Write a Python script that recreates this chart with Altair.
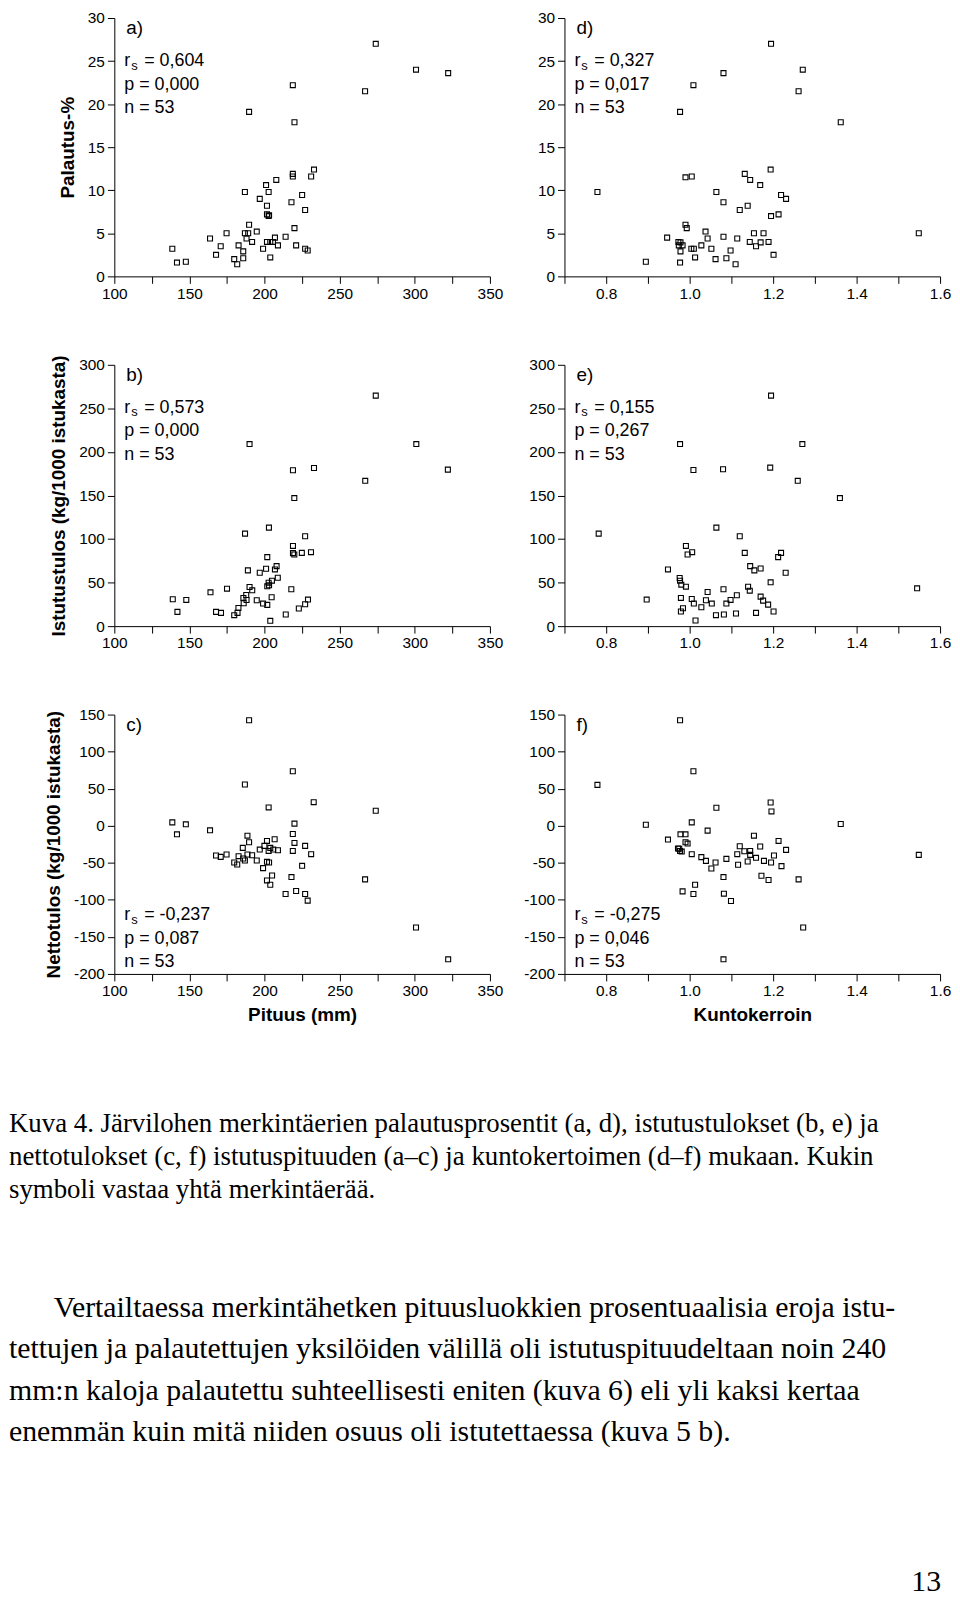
import altair as alt
import pandas as pd

SANS = "Liberation Sans"
SERIF = "Liberation Serif"

# ---------------- data ----------------
len_a = [274.0, 300.8, 322.2, 266.9, 218.8, 189.7, 219.9, 232.9, 218.8, 218.8, 231.0, 207.8, 201.0,
         186.9, 202.7, 196.8, 225.0, 217.9, 201.6, 227.0, 201.6, 202.7, 189.7, 219.9, 174.7, 186.9,
         189.1, 194.8, 163.7, 188.0, 206.9, 214.0, 191.7, 201.6, 203.8, 205.6, 170.8, 182.7, 208.9,
         221.0, 199.0, 227.0, 228.7, 138.6, 185.8, 167.7, 185.8, 203.8, 179.8, 181.8, 141.7, 147.6, 203.0]
pal_a = [27.0, 24.0, 23.6, 21.5, 22.2, 19.1, 17.9, 12.4, 11.9, 11.6, 11.6, 11.2, 10.6,
         9.8, 9.8, 9.0, 9.45, 8.6, 8.2, 7.7, 7.2, 7.0, 6.0, 5.6, 5.0, 5.0,
         5.0, 5.2, 4.4, 4.4, 4.5, 4.6, 4.0, 4.0, 4.0, 4.0, 3.5, 3.6, 3.6,
         3.6, 3.2, 3.2, 3.0, 3.2, 2.9, 2.5, 2.1, 2.2, 2.0, 1.4, 1.6, 1.7, 7.1]

len_b = [274.0, 301.0, 322.0, 267.0, 190.0, 218.9, 232.9, 219.8, 202.9, 187.0, 227.0, 218.9, 218.9,
         219.8, 224.8, 230.9, 201.8, 208.0, 206.9, 201.0, 188.9, 196.8, 208.8, 204.9, 202.7, 201.8,
         190.0, 217.8, 175.0, 164.0, 191.8, 187.8, 185.9, 204.7, 186.1, 194.8, 199.0, 201.8, 228.9,
         227.0, 222.8, 182.6, 182.0, 179.8, 138.9, 147.9, 142.0, 167.7, 171.0, 214.1, 203.8, 188.0, 203.0]
ist_b = [264.6, 209.0, 179.7, 166.8, 209.0, 178.9, 181.6, 147.0, 113.1, 106.2, 103.2, 92.1, 83.8,
         82.2, 84.1, 84.9, 79.2, 68.9, 65.1, 65.9, 64.0, 61.3, 55.6, 52.2, 49.9, 45.7,
         44.9, 42.3, 43.0, 38.8, 41.1, 35.8, 32.4, 33.1, 26.3, 29.7, 25.9, 24.4, 30.5,
         25.1, 20.2, 20.9, 15.2, 12.6, 30.8, 30.1, 16.4, 16.4, 15.2, 13.3, 6.1, 30.0, 47.0]

len_c = [189.7, 218.8, 186.9, 232.7, 202.7, 274.0, 138.6, 147.6, 219.9, 141.7, 163.7, 218.8, 188.6,
         206.7, 201.6, 189.7, 219.9, 227.0, 199.9, 185.5, 196.8, 203.8, 205.8, 208.9, 202.7, 218.8,
         231.0, 167.7, 170.8, 174.7, 182.7, 188.6, 191.7, 185.8, 186.9, 194.8, 179.8, 181.8, 201.6,
         203.0, 199.0, 225.0, 205.0, 217.9, 201.6, 203.8, 266.9, 214.0, 221.0, 227.0, 228.7, 300.8, 322.2]
net_c = [142.4, 73.5, 55.6, 31.8, 24.7, 20.2, 4.5, 1.9, 2.8, -11.6, -6.2, -11.1, -13.4,
         -18.3, -20.5, -22.3, -23.2, -27.2, -27.2, -29.9, -32.2, -29.9, -32.2, -33.1, -34.0, -34.0,
         -38.4, -40.2, -42.0, -38.9, -41.1, -38.9, -39.8, -44.2, -46.9, -46.9, -49.6, -52.3, -48.7,
         -49.6, -57.2, -54.1, -67.1, -69.3, -73.8, -79.6, -72.4, -92.1, -88.1, -92.1, -101.1, -137.3, -180.3]

kk_d = [1.195, 1.271, 1.081, 1.261, 1.009, 0.977, 1.362, 1.194, 1.132, 1.145, 0.990, 1.005, 1.169,
        0.779, 1.064, 1.219, 1.231, 1.081, 1.139, 1.120, 1.195, 1.213, 0.990, 0.993, 1.038, 1.154,
        1.177, 1.549, 0.946, 1.043, 1.081, 1.114, 0.973, 0.978, 1.144, 1.170, 1.189, 0.974, 0.983,
        1.028, 1.159, 1.004, 1.010, 1.052, 0.978, 1.098, 1.201, 1.013, 1.062, 1.088, 1.110, 0.895, 0.977]
pal_d = [27.0, 24.0, 23.6, 21.5, 22.2, 19.1, 17.9, 12.4, 11.9, 11.2, 11.5, 11.6, 10.6,
         9.8, 9.8, 9.45, 9.0, 8.6, 8.2, 7.7, 7.0, 7.2, 6.0, 5.6, 5.2, 5.0,
         5.0, 5.0, 4.5, 4.4, 4.6, 4.4, 4.0, 3.95, 4.0, 3.95, 4.0, 3.6, 3.6,
         3.6, 3.5, 3.2, 3.2, 3.2, 2.9, 3.0, 2.5, 2.2, 2.0, 2.1, 1.4, 1.7, 1.6]

kk_e = [1.195, 0.977, 1.270, 1.009, 1.080, 1.193, 1.259, 1.360, 0.782, 1.064, 1.120, 0.991, 0.995,
        1.006, 1.132, 1.219, 1.212, 1.145, 1.155, 1.170, 1.230, 0.948, 0.976, 0.977, 0.980, 0.991,
        1.194, 1.140, 1.144, 1.043, 1.081, 1.545, 0.897, 0.979, 1.005, 1.010, 1.039, 1.053, 1.028,
        1.088, 1.098, 1.113, 1.170, 1.176, 1.188, 0.984, 0.979, 1.159, 1.201, 1.111, 1.063, 1.082, 1.014]
ist_e = [264.6, 209.0, 209.0, 179.3, 180.1, 182.0, 166.8, 147.0, 106.2, 113.1, 103.2, 92.1, 82.2,
         84.9, 84.1, 84.1, 79.2, 68.9, 64.0, 66.2, 61.3, 65.1, 55.2, 52.2, 47.6, 45.3,
         50.3, 45.3, 40.7, 39.2, 42.3, 43.4, 30.5, 32.4, 31.2, 25.9, 29.7, 25.9, 21.7,
         25.9, 30.1, 35.4, 33.9, 29.3, 24.7, 20.6, 16.8, 15.2, 16.8, 14.5, 12.6, 13.3, 6.5]

kk_f = [0.977, 1.009, 0.779, 1.064, 1.194, 1.196, 0.895, 1.362, 1.005, 1.043, 0.948, 0.978, 0.990,
        1.154, 0.990, 0.995, 1.213, 1.120, 1.169, 1.231, 0.972, 0.977, 0.981, 1.131, 1.145, 1.005,
        1.114, 1.145, 1.202, 1.549, 1.028, 1.159, 1.039, 1.088, 1.139, 1.062, 1.178, 1.195, 1.116,
        1.220, 1.052, 1.081, 1.172, 1.189, 1.261, 1.013, 0.983, 1.009, 1.082, 1.099, 1.272, 1.081, 0.975]
net_f = [142.4, 73.5, 55.1, 24.2, 31.4, 19.3, 1.4, 2.3, 4.5, -6.6, -18.7, -11.6, -11.6,
         -13.4, -22.3, -24.1, -20.5, -27.7, -28.1, -32.6, -30.8, -34.0, -34.9, -34.4, -34.0, -38.4,
         -38.4, -39.3, -40.2, -39.3, -42.4, -43.3, -47.4, -44.7, -48.3, -49.6, -47.4, -49.6, -52.7,
         -54.5, -57.7, -69.3, -67.5, -73.3, -72.4, -79.6, -88.6, -92.1, -91.7, -101.5, -137.3, -180.3, -31.0]

len_ticks = [100, 125, 150, 175, 200, 225, 250, 275, 300, 325, 350]
kk_ticks = [0.7, 0.8, 0.9, 1.0, 1.1, 1.2, 1.3, 1.4, 1.5, 1.6]
pal_ticks = [0, 5, 10, 15, 20, 25, 30]
ist_ticks = [0, 50, 100, 150, 200, 250, 300]
net_ticks = [-200, -150, -100, -50, 0, 50, 100, 150]

stats = {
    "a": ("0,604", "0,000", "53"),
    "b": ("0,573", "0,000", "53"),
    "c": ("-0,237", "0,087", "53"),
    "d": ("0,327", "0,017", "53"),
    "e": ("0,155", "0,267", "53"),
    "f": ("-0,275", "0,046", "53"),
}

caption_lines = [
    "Kuva 4. Järvilohen merkintäerien palautusprosentit (a, d), istutustulokset (b, e) ja",
    "nettotulokset (c, f) istutuspituuden (a–c) ja kuntokertoimen (d–f) mukaan. Kukin",
    "symboli vastaa yhtä merkintäerää.",
]
para_first = ["Vertailtaessa merkintähetken pituusluokkien prosentuaalisia eroja istu-"]
para_rest = [
    "tettujen ja palautettujen yksilöiden välillä oli istutuspituudeltaan noin 240",
    "mm:n kaloja palautettu suhteellisesti eniten (kuva 6) eli yli kaksi kertaa",
    "enemmän kuin mitä niiden osuus oli istutettaessa (kuva 5 b).",
]
page_number = "13"

W = 378


def txt(s, x, y, size=18):
    return alt.Chart(pd.DataFrame({"t": [s]})).mark_text(
        align="left", baseline="alphabetic", font=SANS, fontSize=size, color="black"
    ).encode(x=alt.value(x), y=alt.value(y), text="t:N")


def panel(xs, ys, xkind, ykind, letter, h, ytitle=None, xtitle=None, stats_bottom=False):
    df = pd.DataFrame({"x": xs, "y": ys})
    if xkind == "len":
        xscale = alt.Scale(domain=[100, 350], nice=False, zero=False)
        xaxis = alt.Axis(values=len_ticks, labelExpr="datum.value % 50 === 0 ? datum.label : ''",
                         title=xtitle, titlePadding=6, labelFlush=False)
    else:
        xscale = alt.Scale(domain=[0.7, 1.6], nice=False, zero=False)
        xaxis = alt.Axis(values=kk_ticks, format=".1f",
                         labelExpr="(round(datum.value*10) % 2 === 0) ? datum.label : ''",
                         title=xtitle, titlePadding=6, labelFlush=False)
    if ykind == "pal":
        yscale = alt.Scale(domain=[0, 30], nice=False)
        yt = pal_ticks
    elif ykind == "ist":
        yscale = alt.Scale(domain=[0, 300], nice=False)
        yt = ist_ticks
    else:
        yscale = alt.Scale(domain=[-200, 150], nice=False)
        yt = net_ticks
    yaxis = alt.Axis(values=yt, labelExpr="datum.value + ''", title=ytitle, titlePadding=10,
                     labelFlush=False)

    pts = alt.Chart(df).mark_point(
        shape="square", filled=False, size=25, strokeWidth=1.1, color="black", opacity=1
    ).encode(
        x=alt.X("x:Q", scale=xscale, axis=xaxis),
        y=alt.Y("y:Q", scale=yscale, axis=yaxis),
    )
    r, p, n = stats[letter]
    b0 = h - 54 if stats_bottom else 48.5
    layers = [
        pts,
        txt(letter + ")", 12, 16.5, 19),
        txt("r", 10, b0),
        txt("s", 17, b0 + 3.5, 13),
        txt("= " + r, 30, b0),
        txt("p = " + p, 10, b0 + 23.5),
        txt("n = " + n, 10, b0 + 47),
    ]
    return alt.layer(*layers).properties(width=W, height=h)


pa = panel(len_a, pal_a, "len", "pal", "a", 260, ytitle="Palautus-%")
pdd = panel(kk_d, pal_d, "kk", "pal", "d", 260)
pb = panel(len_b, ist_b, "len", "ist", "b", 263, ytitle="Istutustulos (kg/1000 istukasta)")
pe = panel(kk_e, ist_e, "kk", "ist", "e", 263)
pc = panel(len_c, net_c, "len", "net", "c", 261, ytitle="Nettotulos (kg/1000 istukasta)",
           xtitle="Pituus (mm)", stats_bottom=True)
pf = panel(kk_f, net_f, "kk", "net", "f", 261, xtitle="Kuntokerroin", stats_bottom=True)

grid = alt.concat(pa, pdd, pb, pe, pc, pf, columns=2, bounds="flush",
                  spacing=alt.RowColnumber(row=89, column=75), align="each")

cap_df = pd.DataFrame({"t": caption_lines, "i": list(range(len(caption_lines)))})
p1_df = pd.DataFrame({"t": para_first, "i": [0]})
p2_df = pd.DataFrame({"t": para_rest, "i": list(range(1, 1 + len(para_rest)))})
pg_df = pd.DataFrame({"t": [page_number]})

cap = alt.Chart(cap_df).mark_text(
    align="left", baseline="alphabetic", font=SERIF, fontSize=27, color="black"
).encode(
    x=alt.value(-106),
    y=alt.Y("i:Q", scale=alt.Scale(domain=[0, 2], range=[107, 173]), axis=None),
    text="t:N",
)
para1 = alt.Chart(p1_df).mark_text(
    align="left", baseline="alphabetic", font=SERIF, fontSize=30, color="black"
).encode(
    x=alt.value(-61),
    y=alt.Y("i:Q", scale=alt.Scale(domain=[0, 3], range=[293, 418]), axis=None),
    text="t:N",
)
para2 = alt.Chart(p2_df).mark_text(
    align="left", baseline="alphabetic", font=SERIF, fontSize=30, color="black"
).encode(
    x=alt.value(-106),
    y=alt.Y("i:Q", scale=alt.Scale(domain=[0, 3], range=[293, 418]), axis=None),
    text="t:N",
)
pg = alt.Chart(pg_df).mark_text(
    align="right", baseline="alphabetic", font=SERIF, fontSize=30, color="black"
).encode(x=alt.value(832), y=alt.value(569), text="t:N")

textblock = alt.layer(cap, para1, para2, pg).resolve_scale(y="independent").properties(width=100, height=10)

chart = alt.vconcat(grid, textblock, spacing=0).properties(
    padding={"top": -3, "left": 0, "right": 0, "bottom": 0}
).configure_view(
    stroke="transparent"
).configure_axis(
    labelFont=SANS, titleFont=SANS, labelFontSize=15.5, titleFontSize=19, titleFontWeight="bold",
    labelColor="black", titleColor="black", domainColor="black", tickColor="black",
    tickSize=7, labelPadding=3, grid=False, domainWidth=1, tickWidth=1, labelFlush=False,
)

chart.save("out.html", embed_options={"renderer": "svg", "actions": False})
